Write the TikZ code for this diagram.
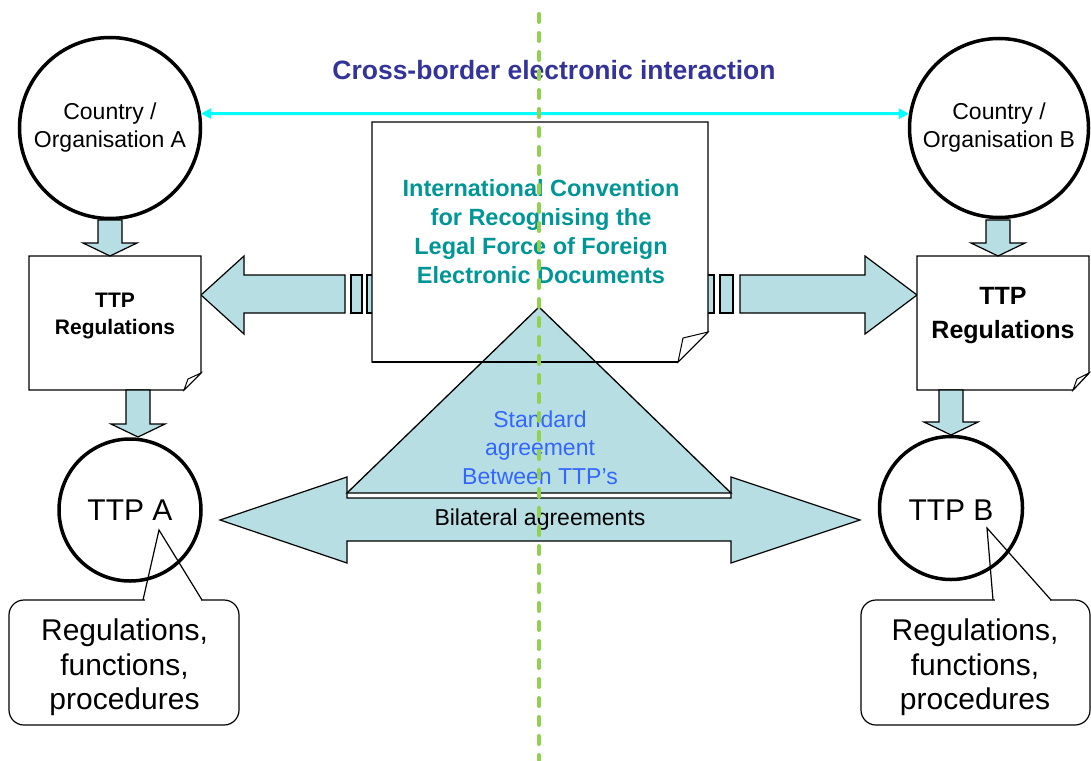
\documentclass[tikz,border=0pt]{standalone}
\usepackage{fontspec}
\setmainfont{Liberation Sans}
\usetikzlibrary{arrows.meta,calc}
\definecolor{bfill}{RGB}{183,222,226}
\definecolor{titleblue}{RGB}{51,51,153}
\definecolor{convteal}{RGB}{0,150,150}
\definecolor{stdblue}{RGB}{51,102,255}
\definecolor{dashgreen}{RGB}{146,208,80}
\definecolor{cyanline}{RGB}{0,255,255}
\begin{document}
\begin{tikzpicture}[x=1pt,y=-1pt,
  blk/.style={fill=bfill,draw=black,line width=1.2pt,line join=miter},
  docshape/.style={fill=white,draw=black,line width=1.3pt,line join=miter},
  bigcirc/.style={circle,draw=black,line width=3.5pt,fill=white,inner sep=0pt,align=center},
  txt/.style={align=center,inner sep=0pt},
  callbox/.style={draw=black,rounded corners=15pt,line width=1.2pt,fill=white,inner sep=0pt},
  callptr/.style={draw=black,line width=1.2pt,line join=miter},
]
\useasboundingbox (0,0) rectangle (1091,760);
\fill[white] (0,0) rectangle (1091,760);

% bilateral double arrow
\draw[blk] (220,520) -- (347,477) -- (347,498) -- (731,498) -- (731,477) -- (860,520)
  -- (731,563) -- (731,541) -- (347,541) -- (347,563) -- cycle;

% horizontal block arrows with stripes
\draw[blk] (201,295) -- (244,256) -- (244,275) -- (345,275) -- (345,313) -- (244,313) -- (244,334) -- cycle;
\draw[blk] (351,275) rectangle (362,313);
\draw[blk] (367,275) rectangle (378,313);
\draw[blk] (917,295) -- (865,256) -- (865,275) -- (740,275) -- (740,313) -- (865,313) -- (865,334) -- cycle;
\draw[blk] (720,275) rectangle (733,313);
\draw[blk] (702,275) rectangle (714,313);

% convention document
\draw[docshape] (372,122) -- (708,122) -- (708,332) -- (678,362) -- (372,362) -- cycle;
\draw[docshape,line width=1pt] (678,362) -- (683,338) -- (708,332) -- cycle;

% triangle
\draw[blk,line width=1.3pt] (539,307) -- (731,493) -- (347,493) -- cycle;
\draw[black,line width=1.3pt] (372,362) -- (678,362);

% circles
\node[bigcirc,minimum size=181pt] (ca) at (110,128) {};
\node[bigcirc,minimum size=179pt] (cb) at (999,128) {};
\node[bigcirc,minimum size=142pt] (ta) at (130,510) {};
\node[bigcirc,minimum size=143pt] (tb) at (951,508) {};
\node[txt,font=\fontsize{23}{28}\selectfont] (cat) at (110,128) {Country /\\Organisation A};
\node[txt,font=\fontsize{23}{28}\selectfont] (cbt) at (999,128) {Country /\\Organisation B};
\node[txt,font=\fontsize{30}{36}\selectfont] (tat) at (130,510) {TTP A};
\node[txt,font=\fontsize{30}{36}\selectfont] (tbt) at (951,510) {TTP B};

% regulation boxes
\draw[docshape] (29,256) -- (201,256) -- (201,373) -- (184,390) -- (29,390) -- cycle;
\draw[docshape,line width=1pt] (184,390) -- (188,379) -- (201,373) -- cycle;
\draw[docshape] (917,256) -- (1089,256) -- (1089,373) -- (1073,390) -- (917,390) -- cycle;
\draw[docshape,line width=1pt] (1073,390) -- (1077,379) -- (1089,373) -- cycle;
\node[txt,font=\bfseries\fontsize{21}{27}\selectfont] (rega) at (115,316) {TTP\\Regulations};
\node[txt,font=\bfseries\fontsize{25}{34}\selectfont] (regb) at (1003,316) {TTP\\Regulations};

% down block arrows
\draw[blk] (98,220) -- (98,243) -- (83,243) -- (110,256) -- (137,243) -- (122,243) -- (122,220) -- cycle;
\draw[blk] (986,220) -- (986,243) -- (971,243) -- (998,256) -- (1025,243) -- (1010,243) -- (1010,220) -- cycle;
\draw[blk] (126,390) -- (126,424) -- (111,424) -- (138,437) -- (165,424) -- (150,424) -- (150,390) -- cycle;
\draw[blk] (939,390) -- (939,422) -- (924,422) -- (951,435) -- (978,422) -- (963,422) -- (963,390) -- cycle;

% callouts
\node[callbox,minimum width=230pt,minimum height=125pt] (cla) at (124,662.5) {};
\node[callbox,minimum width=229pt,minimum height=125pt] (clb) at (975.5,662.5) {};
\coordinate (pa1) at (143,600); \coordinate (pa2) at (159,530); \coordinate (pa3) at (202,600);
\coordinate (pb1) at (993,600); \coordinate (pb2) at (987,528); \coordinate (pb3) at (1051,600);
\draw[white,line width=2pt] ($(pa1)+(1.5,0)$) -- ($(pa3)+(-1.5,0)$);
\draw[white,line width=2pt] ($(pb1)+(1.5,0)$) -- ($(pb3)+(-1.5,0)$);
\draw[callptr] (pa1) -- (pa2) -- (pa3);
\draw[callptr] (pb1) -- (pb2) -- (pb3);
\node[txt,font=\fontsize{30}{34.5}\selectfont] (clat) at (124.5,667.5) {Regulations,\\functions,\\procedures};
\node[txt,font=\fontsize{30}{34.5}\selectfont] (clbt) at (975,667.5) {Regulations,\\functions,\\procedures};

% texts
\node[txt,font=\bfseries\fontsize{26.5}{32}\selectfont,text=titleblue] (title) at (554,70) {Cross-border electronic interaction};
\node[txt,font=\bfseries\fontsize{23.5}{29}\selectfont,text=convteal] (conv) at (541,232)
  {International Convention\\for Recognising the\\Legal Force of Foreign\\Electronic Documents};
\node[txt,font=\fontsize{23}{28.5}\selectfont,text=stdblue] (std) at (540,447.5) {Standard\\agreement\\Between TTP’s};
\node[txt,font=\fontsize{23}{28}\selectfont] (bil) at (540,520) {Bilateral agreements};

% cyan double arrow
\draw[cyanline,line width=3pt,{Triangle[length=10pt 0,width=10pt 0]}-{Triangle[length=10pt 0,width=10pt 0]}]
  (ca.9) -- (cb.171);

% green dashed divider
\coordinate (gtop) at (539,14);
\coordinate (gbot) at (539,760);
\draw[dashgreen,line width=4pt,line cap=round,dash pattern=on 8pt off 11pt] (gtop) -- (gbot);
\end{tikzpicture}
\end{document}
